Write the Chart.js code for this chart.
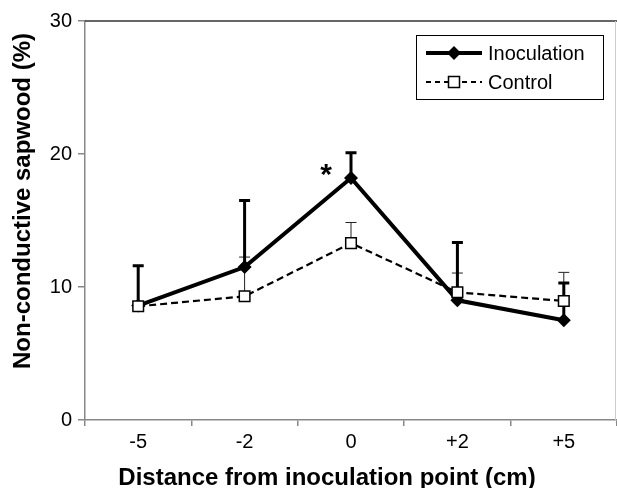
<!DOCTYPE html>
<html><head><meta charset="utf-8">
<script src="https://cdn.jsdelivr.net/npm/chart.js@4.4.1/dist/chart.umd.min.js"></script>
<style>html,body{margin:0;padding:0;background:#fff}#wrap{width:617px;height:488px}</style>
</head><body><div id="wrap"><canvas id="c" width="617" height="488"></canvas></div>
<script>
const categories = ['-5', '-2', '0', '+2', '+5'];
const inoculation = [8.6, 11.5, 18.2, 9.0, 7.5];
const control = [8.55, 9.3, 13.3, 9.6, 8.95];
const inoculationErrTop = [11.6, 16.5, 20.1, 13.35, 10.3];
const controlErrTop = [8.9, 12.25, 14.85, 11.05, 11.1];
const significance = ['', '', '*', '', ''];
const seriesNames = ['Inoculation', 'Control'];
const yMin = 0, yMax = 30, yStep = 10;
const xTitle = 'Distance from inoculation point (cm)';
const yTitle = 'Non-conductive sapwood (%)';

const FONT = "'Liberation Sans', Arial, sans-serif";

function diamond(ctx, x, y, r) {
  ctx.beginPath();
  ctx.moveTo(x, y - r); ctx.lineTo(x + r, y); ctx.lineTo(x, y + r); ctx.lineTo(x - r, y);
  ctx.closePath(); ctx.fillStyle = '#000'; ctx.fill();
}
function square(ctx, x, y, h) {
  ctx.setLineDash([]);
  ctx.fillStyle = '#fff'; ctx.fillRect(x - h, y - h, 2 * h, 2 * h);
  ctx.strokeStyle = '#000'; ctx.lineWidth = 1.5; ctx.strokeRect(x - h, y - h, 2 * h, 2 * h);
}

const errorBars = {
  id: 'errorBars',
  beforeDatasetsDraw(chart) {
    const ctx = chart.ctx, xs = chart.scales.x, ys = chart.scales.y;
    ctx.save();
    const draw = (vals, tops, lw, col) => {
      ctx.strokeStyle = col; ctx.lineWidth = lw; ctx.setLineDash([]);
      vals.forEach((v, i) => {
        const x = xs.getPixelForValue(i), y0 = ys.getPixelForValue(v), y1 = ys.getPixelForValue(tops[i]);
        ctx.beginPath(); ctx.moveTo(x, y0); ctx.lineTo(x, y1);
        ctx.moveTo(x - 5.5, y1); ctx.lineTo(x + 5.5, y1); ctx.stroke();
      });
    };
    draw(control, controlErrTop, 1, '#222');
    draw(inoculation, inoculationErrTop, 3, '#000');
    ctx.restore();
  },
  afterDraw(chart) {
    const ctx = chart.ctx, a = chart.chartArea, xs = chart.scales.x, ys = chart.scales.y;
    ctx.save();
    ctx.setLineDash([]);
    ctx.strokeStyle = '#333'; ctx.lineWidth = 1.5;
    ctx.beginPath(); ctx.moveTo(a.left, a.top); ctx.lineTo(a.right, a.top); ctx.stroke();
    ctx.strokeStyle = '#ccc'; ctx.lineWidth = 1;
    ctx.beginPath(); ctx.moveTo(a.right - 1.5, a.top); ctx.lineTo(a.right - 1.5, a.bottom); ctx.stroke();
    ctx.fillStyle = '#000'; ctx.font = 'bold 30px ' + FONT; ctx.textAlign = 'center'; ctx.textBaseline = 'middle';
    significance.forEach((s, i) => {
      if (!s) return;
      ctx.fillText(s, xs.getPixelForValue(i) - 25, ys.getPixelForValue(inoculation[i]) - 2);
    });
    ctx.font = 'bold 24px ' + FONT; ctx.textBaseline = 'alphabetic';
    ctx.fillText(xTitle, 327, 485);
    ctx.save(); ctx.translate(30, 201); ctx.rotate(-Math.PI / 2);
    ctx.fillText(yTitle, 0, 0); ctx.restore();
    const L = 416, T = 35, R = 603, B = 99;
    ctx.strokeStyle = '#000'; ctx.lineWidth = 1;
    ctx.strokeRect(L + 0.5, T + 0.5, R - L, B - T);
    const r1 = 53, r2 = 82;
    ctx.lineWidth = 4; ctx.beginPath(); ctx.moveTo(426, r1); ctx.lineTo(482, r1); ctx.stroke();
    diamond(ctx, 454, r1, 7);
    ctx.lineWidth = 2; ctx.setLineDash([5, 4]); ctx.beginPath(); ctx.moveTo(426, r2); ctx.lineTo(482, r2); ctx.stroke();
    square(ctx, 454, r2, 5.5);
    ctx.fillStyle = '#000'; ctx.font = '20px ' + FONT; ctx.textAlign = 'left'; ctx.textBaseline = 'middle';
    ctx.fillText(seriesNames[0], 488, r1 + 1);
    ctx.fillText(seriesNames[1], 488, r2 + 1);
    ctx.restore();
  }
};

new Chart(document.getElementById('c'), {
  type: 'line',
  data: {
    labels: categories,
    datasets: [
      { label: seriesNames[0], data: inoculation, borderColor: '#000', borderWidth: 4,
        pointStyle: 'rectRot', pointRadius: 7, pointBackgroundColor: '#000', pointBorderColor: '#000',
        pointBorderWidth: 0, tension: 0, order: 1 },
      { label: seriesNames[1], data: control, borderColor: '#000', borderWidth: 2.2, borderDash: [7, 4],
        pointStyle: 'rect', pointRadius: 7.5, pointBackgroundColor: '#fff', pointBorderColor: '#000',
        pointBorderWidth: 1.5, tension: 0, order: 0 }
    ]
  },
  options: {
    responsive: false, animation: false, devicePixelRatio: 1,
    layout: { autoPadding: false, padding: { top: 21, left: 0, right: 0, bottom: 0 } },
    plugins: { legend: { display: false }, tooltip: { enabled: false } },
    scales: {
      x: {
        type: 'category', offset: true,
        grid: { offset: true, drawOnChartArea: false, drawTicks: true, tickLength: 6, color: '#888', lineWidth: 1.5 },
        border: { color: '#888', width: 1.5 },
        ticks: { color: '#000', font: { size: 20, family: FONT }, padding: 4, maxRotation: 0 },
        afterFit: s => { s.height = 68; s.paddingLeft = 0; s.paddingRight = 0; }
      },
      y: {
        min: yMin, max: yMax,
        grid: { drawOnChartArea: false, drawTicks: true, tickLength: 7, color: '#888', lineWidth: 1.5 },
        border: { color: '#888', width: 1.5 },
        ticks: { stepSize: yStep, color: '#000', font: { size: 20, family: FONT }, padding: 6 },
        afterFit: s => { s.width = 85; s.paddingTop = 0; s.paddingBottom = 0; }
      }
    }
  },
  plugins: [errorBars]
});
</script>
</body></html>
